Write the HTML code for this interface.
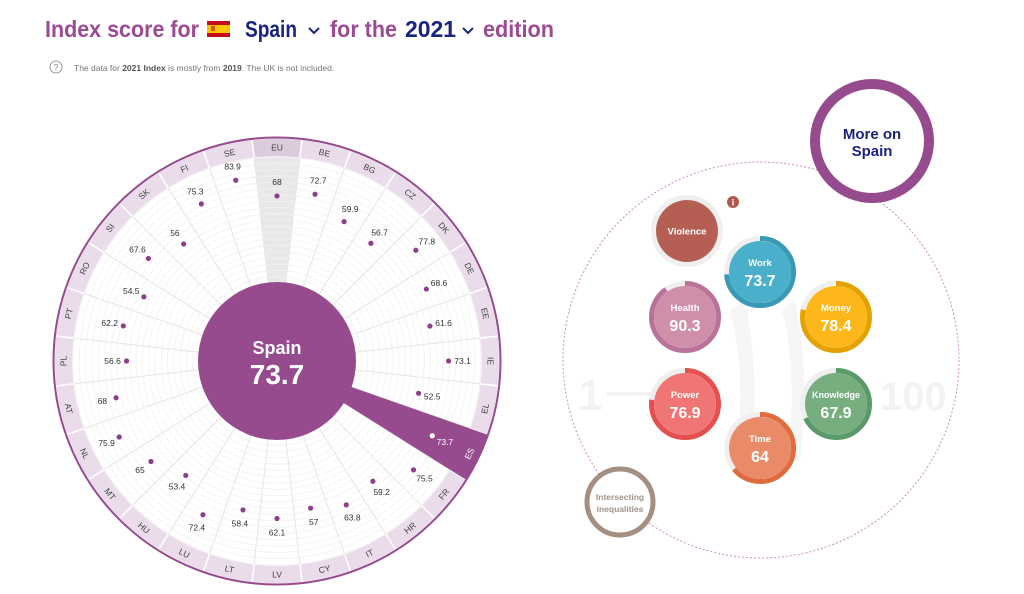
<!DOCTYPE html>
<html><head><meta charset="utf-8">
<style>
html,body{margin:0;padding:0;background:#fff;}
svg{display:block;font-family:"Liberation Sans",sans-serif;}
</style></head>
<body>
<svg id="s" width="1024" height="594" viewBox="0 0 1024 594" xmlns="http://www.w3.org/2000/svg">
<g font-weight="bold" font-size="23">
<text x="45" y="37" fill="#9b4a93" textLength="154" lengthAdjust="spacingAndGlyphs">Index score for</text>
<rect x="207" y="21" width="23" height="16" fill="#c60b1e"/>
<rect x="207" y="25" width="23" height="8" fill="#ffc400"/>
<rect x="211" y="26" width="4" height="5" fill="#ad1519" opacity="0.6"/>
<text x="245" y="37" fill="#1a237e" textLength="52" lengthAdjust="spacingAndGlyphs">Spain</text>
<path d="M309 28 L314 33 L319 28" fill="none" stroke="#1a237e" stroke-width="2"/>
<text x="330" y="37" fill="#9b4a93" textLength="67" lengthAdjust="spacingAndGlyphs">for the</text>
<text x="405" y="37" fill="#1a237e" textLength="51" lengthAdjust="spacingAndGlyphs">2021</text>
<path d="M463 28 L468 33 L473 28" fill="none" stroke="#1a237e" stroke-width="2"/>
<text x="483" y="37" fill="#9b4a93" textLength="71" lengthAdjust="spacingAndGlyphs">edition</text>
</g>
<circle cx="56" cy="67" r="6" fill="none" stroke="#999" stroke-width="1"/>
<text x="56" y="70.5" font-size="9" fill="#888" text-anchor="middle">?</text>
<text x="74" y="71" font-size="8.5" fill="#777">The data for <tspan font-weight="bold" fill="#555">2021 Index</tspan> is mostly from <tspan font-weight="bold" fill="#555">2019</tspan>. The UK is not included.</text>
<g id="chart"></g>
<g id="right">
<text x="578" y="410" font-size="44" font-weight="bold" fill="#f3f3f3">1</text>
<rect x="607" y="392" width="50" height="4" fill="#f3f3f3"/>
<text x="880" y="410" font-size="40" font-weight="bold" fill="#f3f3f3">100</text>
<path d="M745 300 Q762 380 748 470 L735 470 Q748 380 730 310Z" fill="#f6f6f6"/>
<path d="M795 300 Q810 370 800 460 L788 460 Q798 370 782 310Z" fill="#f6f6f6"/>
<circle cx="761" cy="360" r="198" fill="none" stroke="#c98cc5" stroke-width="1" stroke-dasharray="2,2"/>
<circle cx="872" cy="141" r="57" fill="#fff" stroke="#964b8f" stroke-width="10"/>
<text x="872" y="139" font-size="15" font-weight="bold" fill="#1a237e" text-anchor="middle">More on</text>
<text x="872" y="156" font-size="15" font-weight="bold" fill="#1a237e" text-anchor="middle">Spain</text>
<circle cx="620" cy="502" r="33" fill="#fff" stroke="#a48f80" stroke-width="5"/>
<text x="620" y="500" font-size="8.5" font-weight="bold" fill="#a0938a" text-anchor="middle">Intersecting</text>
<text x="620" y="512" font-size="8.5" font-weight="bold" fill="#a0938a" text-anchor="middle">inequalities</text>
<circle cx="733" cy="202" r="6" fill="#b05a4d"/>
<text x="733" y="205.5" font-size="9" font-weight="bold" fill="#fff" text-anchor="middle">i</text>
</g>
</svg>
<script>
(function(){
var NS="http://www.w3.org/2000/svg";
var g=document.getElementById('chart');
var cx=277,cy=361,R0=79,Rin=204,Rout=223;
var names=["EU","BE","BG","CZ","DK","DE","EE","IE","EL","ES","FR","HR","IT","CY","LV","LT","LU","HU","MT","NL","AT","PL","PT","RO","SI","SK","FI","SE"];
var vals=[68,72.7,59.9,56.7,77.8,68.6,61.6,73.1,52.5,73.7,75.5,59.2,63.8,57,62.1,58.4,72.4,53.4,65,75.9,68,56.6,62.2,54.5,67.6,56,75.3,83.9];
var N=28,step=360/N;
function rad(d){return d*Math.PI/180;}
function P(r,a){return [cx+r*Math.sin(rad(a)),cy-r*Math.cos(rad(a))];}
function el(t,at,txt){var e=document.createElementNS(NS,t);for(var k in at)e.setAttribute(k,at[k]);if(txt!=null)e.textContent=txt;g.appendChild(e);return e;}
function sector(r1,r2,a1,a2){var p1=P(r2,a1),p2=P(r2,a2),p3=P(r1,a2),p4=P(r1,a1);
return "M"+p1+" A"+r2+" "+r2+" 0 0 1 "+p2+" L"+p3+" A"+r1+" "+r1+" 0 0 0 "+p4+"Z";}
for(var i=0;i<N;i++){var a=i*step;
el('path',{d:sector(Rin,Rout,a-step/2,a+step/2),fill:i==0?'#dccbdc':'#eadcea',stroke:'#fff','stroke-width':1.5});}
el('path',{d:sector(R0,Rin,-step/2,step/2),fill:'#e8e8e8'});
for(var v=5;v<=100;v+=5){var r=78+1.26*v;if(r>Rin)break;el('circle',{cx:cx,cy:cy,r:r,fill:'none',stroke:'#f2f2f2','stroke-width':0.8});}
for(var i=0;i<N;i++){var a=i*step+step/2;var p1=P(R0,a),p2=P(Rin,a);
el('line',{x1:p1[0],y1:p1[1],x2:p2[0],y2:p2[1],stroke:'#e6e6e6','stroke-width':1});}
el('path',{d:sector(R0-2,Rout+1,9*step-step/2,9*step+step/2),fill:'#964b8f'});
el('circle',{cx:cx,cy:cy,r:Rout+0.5,fill:'none',stroke:'#964b8f','stroke-width':2});
for(var i=0;i<N;i++){var a=i*step;var p=P(213.5,a);var rot=(a>90&&a<270)?a-180:a;
el('text',{x:p[0],y:p[1]+3,'font-size':8.5,fill:i==9?'#fff':'#444','text-anchor':'middle',transform:'rotate('+rot+' '+p[0]+' '+p[1]+')'},names[i]);}
for(var i=0;i<N;i++){var a=i*step;var r=78+1.28*vals[i];var p=P(r,a);
el('circle',{cx:p[0],cy:p[1],r:2.6,fill:i==9?'#fff':'#8e3f8a'});
var q=P(r+14,a);
el('text',{x:q[0],y:q[1]+3,'font-size':8.5,fill:i==9?'#fff':'#333','text-anchor':'middle'},String(vals[i]));}
el('circle',{cx:cx,cy:cy,r:R0,fill:'#964b8f'});
el('text',{x:cx,y:354,'font-size':18,'font-weight':'bold',fill:'#fff','text-anchor':'middle'},'Spain');
el('text',{x:cx,y:384,'font-size':28,'font-weight':'bold',fill:'#fff','text-anchor':'middle'},'73.7');
var gr=document.getElementById('right');
function e2(t,at,txt){var e=document.createElementNS(NS,t);for(var k in at)e.setAttribute(k,at[k]);if(txt!=null)e.textContent=txt;gr.appendChild(e);return e;}
var D=[["Violence",null,687,231,"#b55f54",null],["Work",73.7,760,272,"#4aafca","#3a9ab5"],["Health",90.3,685,317,"#cf8fa9","#b9739a"],["Money",78.4,836,317,"#fdb71a","#e4a200"],["Power",76.9,685,404,"#ef7674","#e5504f"],["Knowledge",67.9,836,404,"#76ae80","#5a9968"],["Time",64,760,448,"#e98b69","#e06b3e"]];
D.forEach(function(d){var x=d[2],y=d[3];
e2('circle',{cx:x,cy:y,r:33.5,fill:'none',stroke:'#efefef','stroke-width':5});
if(d[1]!=null){var C=2*Math.PI*33.5;e2('circle',{cx:x,cy:y,r:33.5,fill:'none',stroke:d[5],'stroke-width':5,'stroke-dasharray':(C*d[1]/100)+' '+C,transform:'rotate(-90 '+x+' '+y+')'});}
e2('circle',{cx:x,cy:y,r:31,fill:d[4]});
if(d[1]==null){e2('text',{x:x,y:y+3.5,'font-size':9.5,'font-weight':'bold',fill:'#fff','text-anchor':'middle'},d[0]);}
else{e2('text',{x:x,y:y-6,'font-size':d[0]=="Knowledge"?9:9.5,'font-weight':'bold',fill:'#fff','text-anchor':'middle'},d[0]);
e2('text',{x:x,y:y+14,'font-size':16,'font-weight':'bold',fill:'#fff','text-anchor':'middle'},String(d[1]));}
});
})();
</script>
</body></html>
